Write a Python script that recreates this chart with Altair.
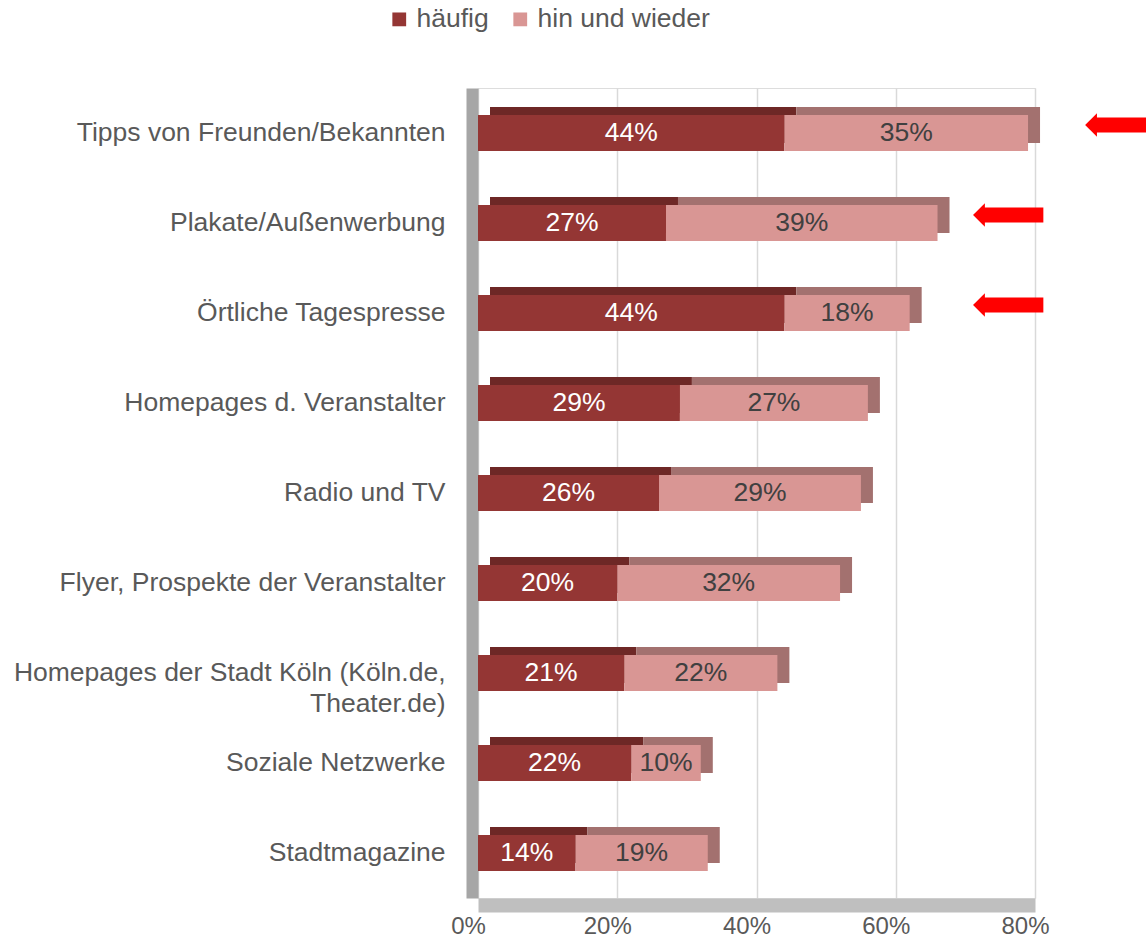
import altair as alt
import pandas as pd

categories = [
    "Tipps von Freunden/Bekannten",
    "Plakate/Außenwerbung",
    "Örtliche Tagespresse",
    "Homepages d. Veranstalter",
    "Radio und TV",
    "Flyer, Prospekte der Veranstalter",
    "Homepages der Stadt Köln (Köln.de,|Theater.de)",
    "Soziale Netzwerke",
    "Stadtmagazine",
]
haeufig = [44, 27, 44, 29, 26, 20, 21, 22, 14]
hin_und_wieder = [35, 39, 18, 27, 29, 32, 22, 10, 19]
series = ["häufig", "hin und wieder"]
colors_front = ["#943634", "#D99694"]
colors_depth = ["#6E2826", "#A3716F"]
text_colors = ["#FFFFFF", "#404040"]
x_ticks = [0, 20, 40, 60, 80]

arrow_rows = [categories[0], categories[1], categories[2]]
arrow_head = [87.2, 71.1, 71.1]
arrow_tail = [97.0, 81.2, 81.2]

FONT = "Liberation Sans"
FS = 26.5

rows = []
for c, a, b in zip(categories, haeufig, hin_und_wieder):
    rows.append(dict(cat=c, series=series[0], start=0, end=a, val=a, mid=a / 2,
                     depth=colors_depth[0], tcol=text_colors[0]))
    rows.append(dict(cat=c, series=series[1], start=a, end=a + b, val=b, mid=a + b / 2,
                     depth=colors_depth[1], tcol=text_colors[1]))
df = pd.DataFrame(rows)
df["label"] = df["val"].astype(str) + "%"

arrows = pd.DataFrame({"cat": arrow_rows, "head": arrow_head, "tail": arrow_tail})

yenc = alt.Y(
    "cat:N",
    sort=categories,
    scale=alt.Scale(paddingInner=0.6, paddingOuter=0.3),
    axis=alt.Axis(
        title=None,
        labelExpr="split(datum.label, '|')",
        labelFontSize=FS,
        labelColor="#595959",
        labelFont=FONT,
        labelLineHeight=31,
        labelPadding=27,
        labelLimit=0,
        ticks=False,
        domainColor="#A6A6A6",
        domainWidth=12,
        offset=6,
        grid=False,
    ),
)
xscale = alt.Scale(domain=[0, 80], nice=False)

base = alt.Chart(df)

depth = base.mark_bar(xOffset=12, x2Offset=12, yOffset=-8, y2Offset=-8).encode(
    x=alt.X("start:Q", scale=xscale,
            axis=alt.Axis(values=x_ticks, labelExpr="datum.value + '%'", title=None,
                          labelFontSize=24, labelColor="#595959", labelFont=FONT,
                          ticks=False, domainColor="#BFBFBF", domainWidth=14, offset=7,
                          labelPadding=9, labelOffset=-10, labelFlush=False, grid=True,
                          gridColor="#D9D9D9", gridWidth=1.5)),
    x2="end:Q",
    y=yenc,
    color=alt.Color("depth:N", scale=None),
)

front = base.mark_bar().encode(
    x=alt.X("start:Q", scale=xscale),
    x2="end:Q",
    y=alt.Y("cat:N", sort=categories),
    color=alt.Color(
        "series:N",
        scale=alt.Scale(domain=series, range=colors_front),
        legend=alt.Legend(
            title=None, orient="none", legendX=-92, legendY=-82,
            direction="horizontal", symbolType="square", symbolSize=190,
            symbolStrokeWidth=0, labelFontSize=FS, labelColor="#595959",
            labelFont=FONT, columnPadding=18, labelOffset=4, labelLimit=0,
        ),
    ),
)

texts = base.mark_text(fontSize=FS, font=FONT).encode(
    x=alt.X("mid:Q", scale=xscale),
    y=alt.Y("cat:N", sort=categories),
    text="label:N",
    color=alt.Color("tcol:N", scale=None),
)

arrow_shaft = alt.Chart(arrows).mark_rule(
    color="#FF0000", strokeWidth=15, yOffset=-8, xOffset=10, x2Offset=0, strokeCap="butt"
).encode(
    x=alt.X("head:Q", scale=xscale),
    x2="tail:Q",
    y=alt.Y("cat:N", sort=categories),
)

arrow_head_m = alt.Chart(arrows).mark_point(
    shape="M 0 0 L 1 -1 L 1 1 Z", filled=True, opacity=1, color="#FF0000",
    size=560, yOffset=-8, strokeWidth=0,
).encode(
    x=alt.X("head:Q", scale=xscale),
    y=alt.Y("cat:N", sort=categories),
)

chart = (
    alt.layer(depth, front, texts, arrow_shaft, arrow_head_m)
    .properties(
        width=557,
        height=810,
        autosize=alt.AutoSizeParams(type="none"),
        padding={"left": 478, "top": 88, "right": 111, "bottom": 46},
    )
    .configure_view(fill="#F2F2F2", stroke="#D9D9D9", strokeWidth=1.5)
    .configure(background="white")
)

chart.save("out.html", embed_options={"renderer": "svg", "actions": False})
